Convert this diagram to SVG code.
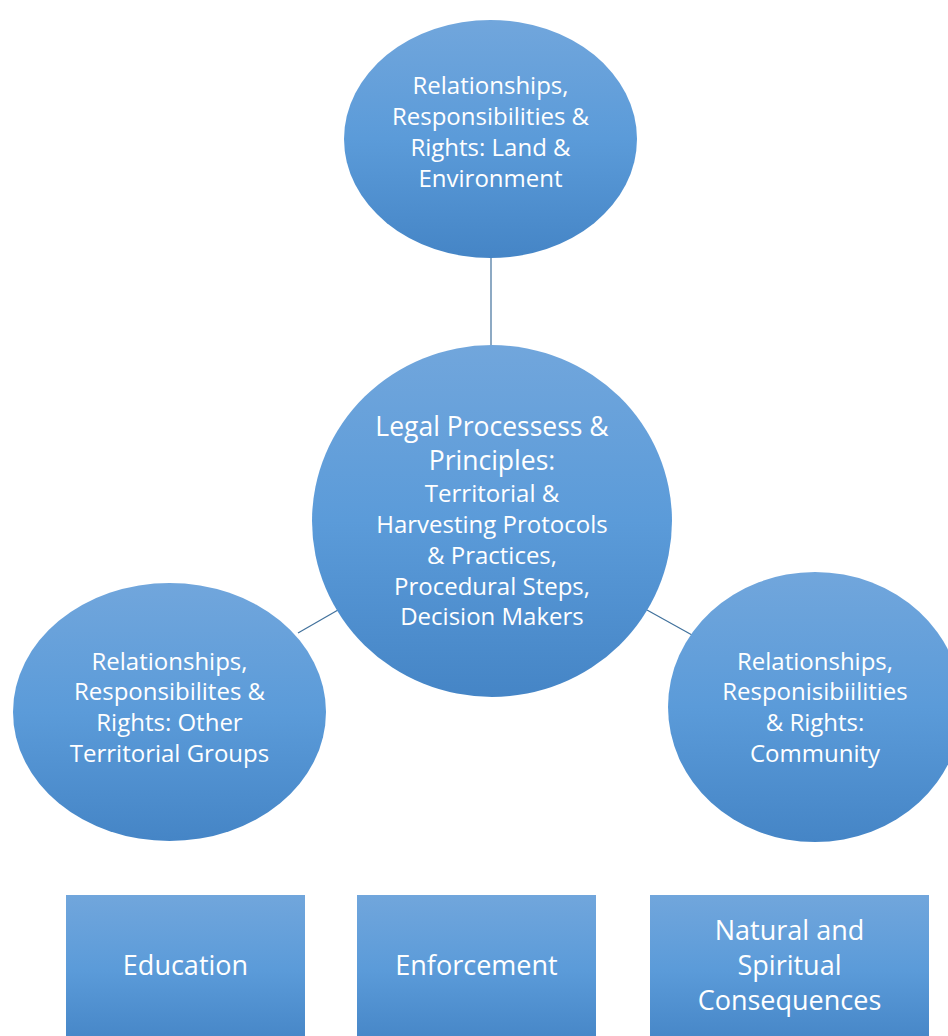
<svg xmlns="http://www.w3.org/2000/svg" width="948" height="1036" viewBox="0 0 948 1036">
<defs>
<linearGradient id="g" x1="0" y1="0" x2="0" y2="1">
<stop offset="0" stop-color="#71a6dc"/>
<stop offset="0.5" stop-color="#5b9bd9"/>
<stop offset="1" stop-color="#4585c6"/>
</linearGradient>
<style>
.shape{fill:url(#g);}
.t{font-family:"Open Sans","Liberation Sans",sans-serif;fill:#ffffff;text-anchor:middle;font-size:24px;}
.big{font-size:27px;}
.mid{font-size:26.5px;}
.conn{stroke:#41719c;stroke-width:1.2;fill:none;}
</style>
</defs>
<rect width="948" height="1036" fill="#ffffff"/>
<g id="connectors">
<line class="conn" x1="491" y1="256" x2="491" y2="347"/>
<line class="conn" x1="298" y1="633" x2="338" y2="610"/>
<line class="conn" x1="647" y1="610" x2="692" y2="635"/>
</g>
<g id="node-top">
<ellipse class="shape" cx="490.5" cy="139" rx="146.5" ry="119"/>
<text class="t" x="490.5" y="94">Relationships,</text>
<text class="t" x="490.5" y="124.5">Responsibilities &amp;</text>
<text class="t" x="490.5" y="155.5">Rights: Land &amp;</text>
<text class="t" x="490.5" y="186.5">Environment</text>
</g>
<g id="node-center">
<ellipse class="shape" cx="492" cy="521" rx="180" ry="176"/>
<text class="t mid" x="492" y="436">Legal Processess &amp;</text>
<text class="t mid" x="492" y="470">Principles:</text>
<text class="t" x="492" y="502">Territorial &amp;</text>
<text class="t" x="492" y="533">Harvesting Protocols</text>
<text class="t" x="492" y="564">&amp; Practices,</text>
<text class="t" x="492" y="595">Procedural Steps,</text>
<text class="t" x="492" y="625">Decision Makers</text>
</g>
<g id="node-left">
<ellipse class="shape" cx="169.5" cy="712" rx="156.5" ry="129"/>
<text class="t" x="169.5" y="670">Relationships,</text>
<text class="t" x="169.5" y="700">Responsibilites &amp;</text>
<text class="t" x="169.5" y="731">Rights: Other</text>
<text class="t" x="169.5" y="762">Territorial Groups</text>
</g>
<g id="node-right">
<ellipse class="shape" cx="815" cy="707" rx="147" ry="135"/>
<text class="t" x="815" y="670">Relationships,</text>
<text class="t" x="815" y="700">Responisibiilities</text>
<text class="t" x="815" y="731">&amp; Rights:</text>
<text class="t" x="815" y="762">Community</text>
</g>
<g id="box-education">
<rect class="shape" x="66" y="895" width="239" height="150"/>
<text class="t big" x="185.5" y="975">Education</text>
</g>
<g id="box-enforcement">
<rect class="shape" x="357" y="895" width="239" height="150"/>
<text class="t big" x="476.5" y="975">Enforcement</text>
</g>
<g id="box-consequences">
<rect class="shape" x="650" y="895" width="279" height="150"/>
<text class="t big" x="789.5" y="940">Natural and</text>
<text class="t big" x="789.5" y="975">Spiritual</text>
<text class="t big" x="789.5" y="1010">Consequences</text>
</g>
</svg>
